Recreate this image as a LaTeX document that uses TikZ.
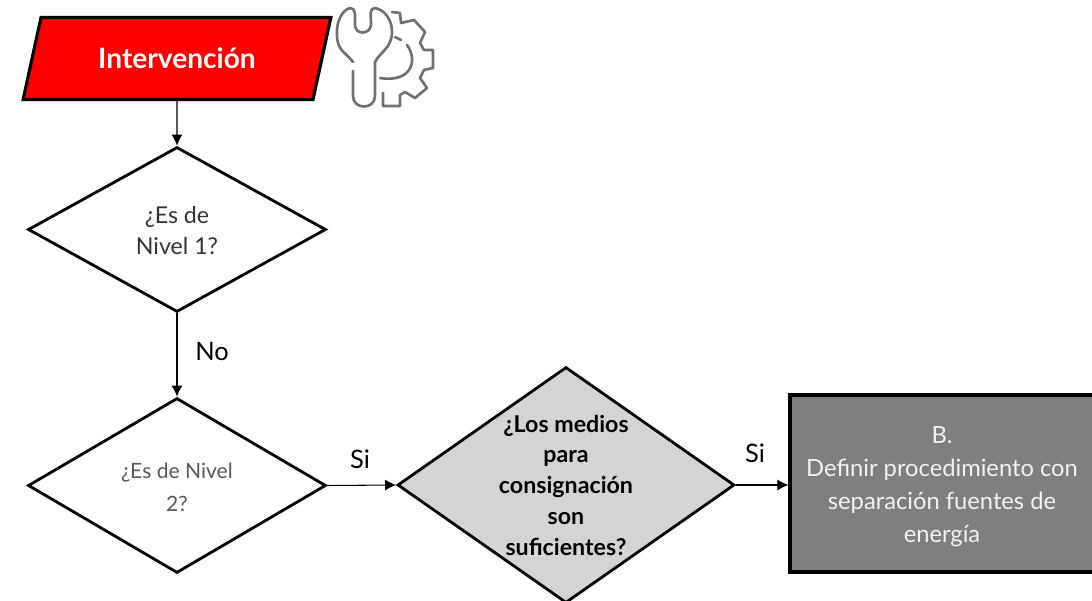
\documentclass[tikz,border=0pt]{standalone}
\usepackage{fontspec}
\setmainfont{Lato}
\usetikzlibrary{shapes.geometric,arrows.meta}
\definecolor{rojo}{HTML}{FF0000}
\definecolor{grisclaro}{HTML}{D4D4D4}
\definecolor{grisoscuro}{HTML}{7F7F7F}
\definecolor{grisicono}{HTML}{707070}
\tikzset{
	decision/.style={diamond, draw, line width=1.6pt, inner sep=0pt, minimum width=#1},
	flecha/.style={-{Latex[length=.22cm,width=.22cm]}, line width=.6pt},
	rotulo/.style={font=\fontsize{14.5}{17}\selectfont},
	icono/.style={grisicono, line width=1.5pt, line cap=round, line join=round}
}
\begin{document}
\begin{tikzpicture}[x=.02cm,y=-.02cm]
	\useasboundingbox (0,0) rectangle (1092,601);
	
	\node[trapezium, trapezium left angle=77.7, trapezium right angle=102.3,
		draw, line width=1.8pt, fill=rojo, text width=5.44cm, text height=1.02cm, text depth=.62cm, inner sep=0pt, align=center,
		text=white, font=\fontsize{16}{19}\selectfont\bfseries] (interv) at (177,58.5) {Intervención};
	
	\node[decision=5.96cm, minimum height=3.3cm, label={[align=center, yshift=-.02cm, font=\fontsize{13.2}{18}\selectfont, text=black!80]center:¿Es de\\Nivel 1?}] (nivel1) at (177,229.5) {};
	\node[decision=5.96cm, minimum height=3.5cm, label={[align=center, yshift=-.04cm, font=\fontsize{12}{19}\selectfont, text=black!65]center:¿Es de Nivel\\2?}] (nivel2) at (177,485.5) {};
	\node[decision=6.74cm, minimum height=4.72cm, fill=grisclaro,
		label={[align=center, font=\fontsize{13.2}{17.5}\selectfont\bfseries]center:¿Los medios\\para\\consignación\\son\\suficientes?}] (medios) at (566,485) {};
	\node[draw, line width=1.8pt, fill=grisoscuro, minimum width=6.08cm, minimum height=3.54cm, inner sep=0pt,
		label={[align=center, yshift=-.06cm, text=white!95!black, font=\fontsize{13.5}{18.8}\selectfont]center:B.\\Definir procedimiento con\\separación fuentes de\\energía}] (def) at (942,483.5) {};
	
	\draw[flecha] (interv.south) -- (nivel1.north);
	\draw[flecha] (nivel1.south) -- (nivel2.north);
	\draw[flecha] (nivel2.east) -- (medios.west);
	\draw[flecha] (medios.east) -- (medios.east -| def.west);
	
	\node[rotulo] (no) at (212,351) {No};
	\node[rotulo] (si1) at (360,459) {Si};
	\node[rotulo] (si2) at (755,453) {Si};
	
	% llave
	\draw[icono] (353,62) .. controls (345,52) and (337,50) .. (337,35)
		.. controls (336,22) and (342,10) .. (350,8)
		.. controls (356,8) and (355,15) .. (355,25)
		.. controls (355,35) and (370,35) .. (371,25)
		.. controls (371,15) and (369,8) .. (375,8)
		.. controls (385,10) and (392,20) .. (392,32)
		.. controls (392,48) and (380,52) .. (375,62)
		-- (375,96) .. controls (375,110) and (353,110) .. (353,96) -- (353,71);
	% engranaje
	\draw[icono] (392,12) -- (400,13) -- (401,23) -- (414,20) -- (425,32) -- (420,43) -- (424,50)
		-- (433,50) -- (433,68) -- (424,70) -- (420,78) -- (427,88) -- (415,98) -- (405,92) -- (400,95)
		-- (400,106) -- (383,106) -- (383,93);
	\draw[icono] (395,37) -- (401,40);
	\draw[icono] (407,45) .. controls (418,60) and (412,83) .. (380,78);
\end{tikzpicture}
\end{document}
